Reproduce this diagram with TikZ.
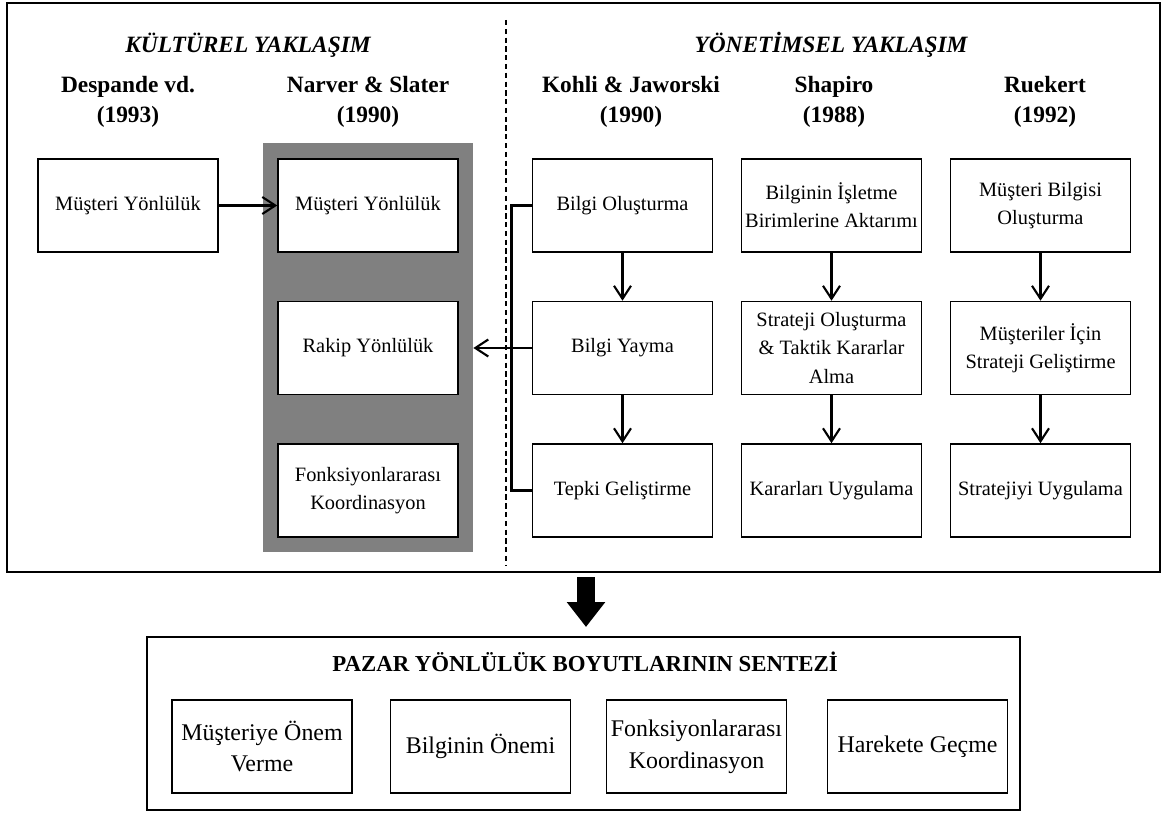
\documentclass[tikz,border=0pt]{standalone}
\usepackage{fontspec}
\setmainfont{Liberation Serif}
\usetikzlibrary{arrows.meta}

\tikzset{
  box/.style={draw, line width=0.9pt, fill=white, minimum width=3.6cm,
    minimum height=1.86cm, align=center, inner sep=2pt,
    font=\fontsize{11.6}{16}\selectfont},
  sbox/.style={box, font=\fontsize{13.6}{18}\selectfont},
  frame/.style={draw, line width=1.6pt, inner sep=0pt},
  shade/.style={fill=black!50, inner sep=0pt},
  approach/.style={font=\fontsize{13.3}{16}\selectfont\bfseries\itshape},
  author/.style={align=center, font=\fontsize{13.3}{17.5}\selectfont\bfseries},
  title/.style={font=\fontsize{13}{16}\selectfont\bfseries},
  link/.style={line width=1.2pt, -{Straight Barb[length=2.6mm,width=3.4mm]}},
  bracket/.style={line width=1.4pt},
  bigarrow/.style={line width=3.6mm, -{Triangle[length=5mm,width=7.4mm]}},
  divider/.style={line width=0.6pt, dash pattern=on 3pt off 2pt},
}

\begin{document}
\begin{tikzpicture}
  \fill[white] (0,0) rectangle (23.26,-16.34);
  \useasboundingbox (0,0) rectangle (23.26,-16.34);

  \node[frame, minimum width=23.06cm, minimum height=11.38cm] (top) at (11.67,-5.75) {};
  \draw[divider] (10.12,-0.4) -- (10.12,-11.3);
  \node[shade, minimum width=4.2cm, minimum height=8.18cm] (nsbg) at (7.36,-6.95) {};

  \node[approach] (kult) at (4.96,-0.9) {KÜLTÜREL YAKLAŞIM};
  \node[approach] (yon) at (16.62,-0.9) {YÖNETİMSEL YAKLAŞIM};

  \node[author] (dpa) at (2.56,-2.04) {Despande vd.\\(1993)};
  \node[author] (nsa) at (7.36,-2.04) {Narver \& Slater\\(1990)};
  \node[author] (kja) at (12.62,-2.04) {Kohli \& Jaworski\\(1990)};
  \node[author] (sha) at (16.68,-2.04) {Shapiro\\(1988)};
  \node[author] (rka) at (20.9,-2.04) {Ruekert\\(1992)};

  \node[box] (dp) at (2.56,-4.11) {Müşteri Yönlülük};
  \node[box] (ns1) at (7.36,-4.11) {Müşteri Yönlülük};
  \node[box] (ns2) at (7.36,-6.96) {Rakip Yönlülük};
  \node[box] (ns3) at (7.36,-9.81) {Fonksiyonlararası\\Koordinasyon};
  \node[box] (kj1) at (12.45,-4.11) {Bilgi Oluşturma};
  \node[box] (kj2) at (12.45,-6.96) {Bilgi Yayma};
  \node[box] (kj3) at (12.45,-9.81) {Tepki Geliştirme};
  \node[box] (sh1) at (16.63,-4.11) {Bilginin İşletme\\Birimlerine Aktarımı};
  \node[box] (sh2) at (16.63,-6.96) {Strateji Oluşturma\\\& Taktik Kararlar\\Alma};
  \node[box] (sh3) at (16.63,-9.81) {Kararları Uygulama};
  \node[box] (rk1) at (20.81,-4.11) {Müşteri Bilgisi\\Oluşturma};
  \node[box] (rk2) at (20.81,-6.96) {Müşteriler İçin\\Strateji Geliştirme};
  \node[box] (rk3) at (20.81,-9.81) {Stratejiyi Uygulama};

  \draw[link] (dp) -- (ns1);
  \draw[link] (kj1) -- (kj2);
  \draw[link] (kj2) -- (kj3);
  \draw[link] (sh1) -- (sh2);
  \draw[link] (sh2) -- (sh3);
  \draw[link] (rk1) -- (rk2);
  \draw[link] (rk2) -- (rk3);
  \draw[bracket] (kj1.west) -- ++(-0.4,0) |- (kj3.west);
  \draw[link] (kj2.west) -- (kj2.west -| nsbg.east);

  \coordinate (g1) at (11.72,-11.54);
  \coordinate (g2) at (11.72,-12.54);
  \draw[bigarrow] (g1) -- (g2);

  \node[frame, minimum width=17.46cm, minimum height=3.46cm] (syn) at (11.67,-14.47) {};
  \node[title] (synt) at (11.7,-13.24) {PAZAR YÖNLÜLÜK BOYUTLARININ SENTEZİ};
  \node[sbox] (s1) at (5.24,-14.93) {Müşteriye Önem\\Verme};
  \node[sbox] (s2) at (9.61,-14.93) {Bilginin Önemi};
  \node[sbox] (s3) at (13.93,-14.93) {Fonksiyonlararası\\Koordinasyon};
  \node[sbox] (s4) at (18.35,-14.93) {Harekete Geçme};
\end{tikzpicture}
\end{document}
